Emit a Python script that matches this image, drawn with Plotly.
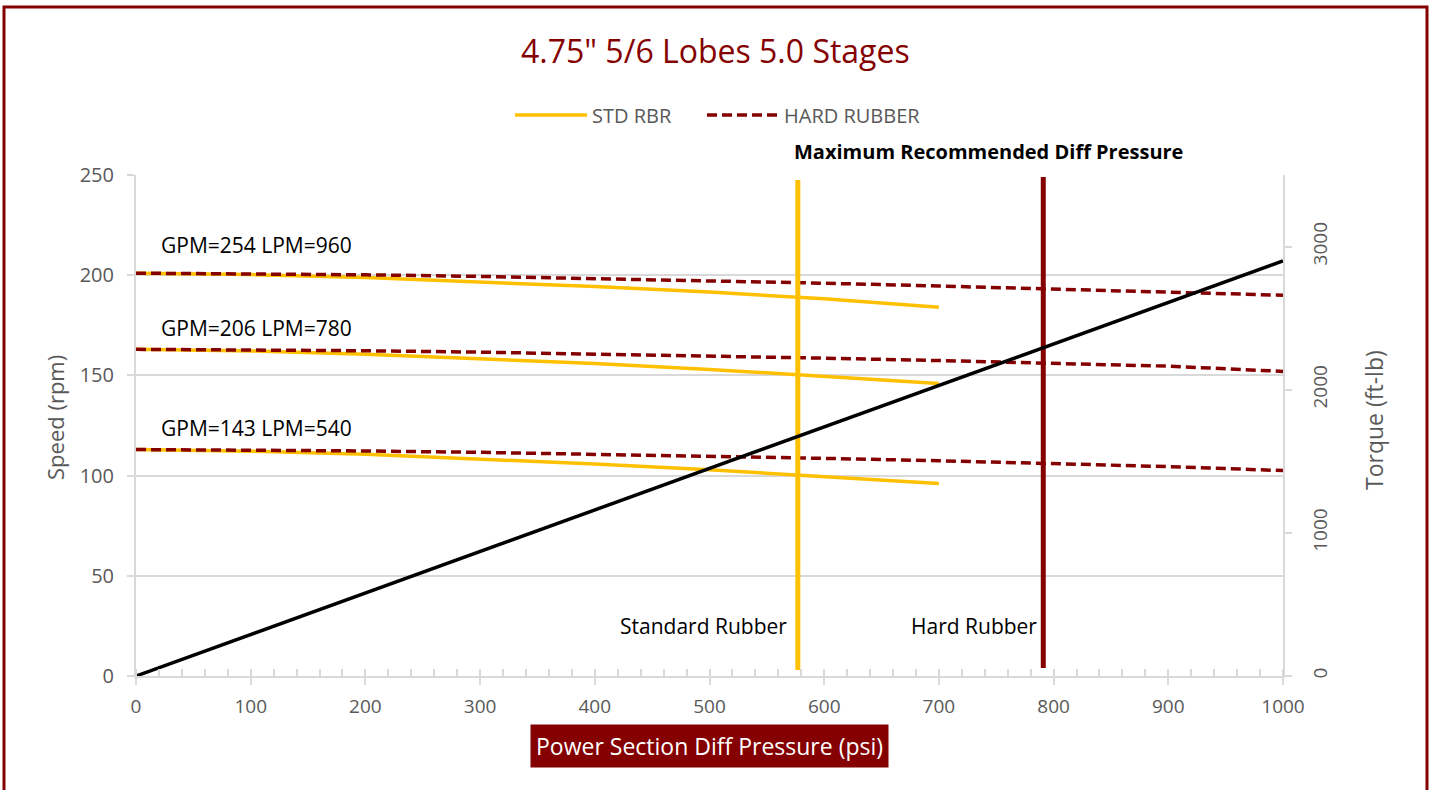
import plotly.graph_objects as go

# ---------------- data ----------------
pressure_hard = [0, 100, 200, 300, 400, 500, 600, 700, 800, 900, 1000]
pressure_std = [0, 100, 200, 300, 400, 500, 600, 700]

flow_labels = ["GPM=254 LPM=960", "GPM=206 LPM=780", "GPM=143 LPM=540"]

std_speed_254 = [201, 200.3, 198.8, 196.7, 194.3, 191.6, 188.2, 184]
std_speed_206 = [163, 162.2, 160.6, 158.4, 155.9, 153.0, 149.6, 146]
std_speed_143 = [113, 112.2, 110.6, 108.4, 105.8, 102.9, 99.6, 96]

hard_speed_254 = [201, 200.8, 200.2, 199.4, 198.4, 197.2, 196.0, 194.6, 193.2, 191.6, 190]
hard_speed_206 = [163, 162.8, 162.3, 161.6, 160.7, 159.7, 158.6, 157.4, 156.1, 154.6, 152]
hard_speed_143 = [113, 112.8, 112.3, 111.6, 110.7, 109.7, 108.6, 107.4, 106.1, 104.5, 102.5]

torque_pressure = [0, 1000]
torque_values = [0, 2900]

std_max_psi = 577
hard_max_psi = 791
std_max_span = [3, 247.5]
hard_max_span = [4, 249]

x_ticks = [0, 100, 200, 300, 400, 500, 600, 700, 800, 900, 1000]
speed_ticks = [0, 50, 100, 150, 200, 250]
torque_ticks = [0, 1000, 2000, 3000]

# ---------------- styles ----------------
YELLOW = "#FFC000"
DARKRED = "#850000"
GRAY = "#595959"
GRID = "#D9D9D9"
FONT = "Open Sans"
flow_label_pos = [215, 173.7, 123.8]   # label placement (rpm units)

fig = go.Figure()

std_sets = [std_speed_254, std_speed_206, std_speed_143]
hard_sets = [hard_speed_254, hard_speed_206, hard_speed_143]

for i, ys in enumerate(std_sets):
    fig.add_trace(go.Scatter(
        x=pressure_std, y=ys, mode="lines", name="STD RBR",
        legendgroup="std", showlegend=(i == 0), legend="legend",
        line=dict(color=YELLOW, width=3.5), hoverinfo="skip"))

for i, ys in enumerate(hard_sets):
    fig.add_trace(go.Scatter(
        x=pressure_hard, y=ys, mode="lines", name="HARD RUBBER",
        legendgroup="hard", showlegend=(i == 0), legend="legend2",
        line=dict(color=DARKRED, width=3.5, dash="10px,5px"), hoverinfo="skip"))

fig.add_trace(go.Scatter(
    x=[std_max_psi, std_max_psi], y=std_max_span, mode="lines",
    line=dict(color=YELLOW, width=5), showlegend=False, hoverinfo="skip"))
fig.add_trace(go.Scatter(
    x=[hard_max_psi, hard_max_psi], y=hard_max_span, mode="lines",
    line=dict(color=DARKRED, width=5), showlegend=False, hoverinfo="skip"))

fig.add_trace(go.Scatter(
    x=torque_pressure, y=torque_values, mode="lines", yaxis="y2",
    line=dict(color="black", width=3.5), showlegend=False, hoverinfo="skip"))

# flow labels
for lbl, yp in zip(flow_labels, flow_label_pos):
    fig.add_annotation(x=20, y=yp, text=lbl, showarrow=False,
                       xanchor="left", yanchor="middle",
                       font=dict(family=FONT, size=21, color="black"))

fig.add_annotation(x=std_max_psi - 8, y=25, text="Standard Rubber", showarrow=False,
                   xanchor="right", yanchor="middle",
                   font=dict(family=FONT, size=21, color="black"))
fig.add_annotation(x=hard_max_psi - 3.5, y=25, text="Hard Rubber", showarrow=False,
                   xanchor="right", yanchor="middle",
                   font=dict(family=FONT, size=21, color="black"))
fig.add_annotation(xref="paper", yref="paper", x=(988 - 136) / 1147, y=(676 - 152) / 501,
                   text="<b>Maximum Recommended Diff Pressure</b>", showarrow=False,
                   xanchor="center", yanchor="middle",
                   font=dict(family=FONT, size=20, color="black"))

# title
fig.add_annotation(xref="paper", yref="paper", x=(715 - 136) / 1147, y=(676 - 50) / 501,
                   text='4.75" 5/6 Lobes 5.0 Stages', showarrow=False,
                   xanchor="center", yanchor="middle",
                   font=dict(family=FONT, size=32, color=DARKRED))

# x axis title box
fig.add_annotation(xref="paper", yref="paper", x=(709 - 136) / 1147, y=(676 - 746) / 501,
                   text="Power Section Diff Pressure (psi)", showarrow=False,
                   xanchor="center", yanchor="middle",
                   bgcolor=DARKRED, borderpad=5,
                   font=dict(family=FONT, size=23, color="white"))

# axis titles
fig.add_annotation(xref="paper", yref="paper", x=(55 - 136) / 1147, y=(676 - 418) / 501,
                   text="Speed (rpm)", showarrow=False, textangle=-90,
                   xanchor="center", yanchor="middle",
                   font=dict(family=FONT, size=22, color=GRAY))
fig.add_annotation(xref="paper", yref="paper", x=(1374 - 136) / 1147, y=(676 - 420) / 501,
                   text="Torque (ft-lb)", showarrow=False, textangle=-90,
                   xanchor="center", yanchor="middle",
                   font=dict(family=FONT, size=23, color=GRAY))

# outer border
fig.add_shape(type="rect", xref="paper", yref="paper",
              x0=(4 - 136) / 1147, x1=(1427 - 136) / 1147,
              y0=(676 - 800) / 501, y1=(676 - 7) / 501,
              line=dict(color=DARKRED, width=3), fillcolor="rgba(0,0,0,0)", layer="below")

legend_common = dict(orientation="h", yanchor="middle", xanchor="left",
                     y=(676 - 115) / 501,
                     font=dict(family=FONT, size=20, color=GRAY),
                     itemwidth=72, bgcolor="rgba(0,0,0,0)")

fig.update_layout(
    width=1437, height=790,
    margin=dict(l=136, r=154, t=175, b=114),
    paper_bgcolor="white", plot_bgcolor="white",
    font=dict(family=FONT, color=GRAY),
    showlegend=True,
    legend=dict(x=(510 - 136) / 1147, **legend_common),
    legend2=dict(x=(702 - 136) / 1147, **legend_common),
    xaxis=dict(range=[0, 1000], tickvals=x_ticks, showgrid=False,
               showline=True, linecolor=GRID, linewidth=2,
               ticks="outside", ticklen=7, tickwidth=2, tickcolor=GRID,
               ticklabelstandoff=5,
               minor=dict(dtick=20, ticks="inside", ticklen=7, tickwidth=1.5, tickcolor=GRID),
               tickfont=dict(family=FONT, size=19, color=GRAY),
               zeroline=False, fixedrange=True),
    yaxis=dict(range=[0, 250], tickvals=speed_ticks, showgrid=True, gridcolor=GRID,
               gridwidth=1.5, showline=True, linecolor=GRID, linewidth=2,
               ticks="outside", ticklen=7, tickwidth=2, tickcolor=GRID,
               ticklabelstandoff=9,
               tickfont=dict(family=FONT, size=20, color=GRAY),
               zeroline=False),
    yaxis2=dict(range=[0, 3500], tickvals=torque_ticks, overlaying="y", side="right",
                showgrid=False, showline=True, linecolor=GRID, linewidth=2,
                ticks="outside", ticklen=7, tickwidth=2, tickcolor=GRID,
                tickangle=-90, ticklabelstandoff=12,
                tickfont=dict(family=FONT, size=19, color=GRAY),
                zeroline=False),
)

fig.write_html("out.html", config={"displayModeBar": False},
               post_script="document.body.style.margin='0';")
